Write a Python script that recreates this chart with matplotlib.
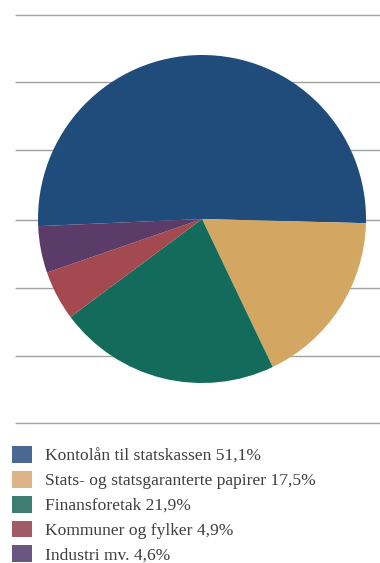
import matplotlib.pyplot as plt
from matplotlib.patches import Patch

# Fordeling av plasseringer (prosent)
labels = ["Kontolån til statskassen", "Stats- og statsgaranterte papirer",
          "Finansforetak", "Kommuner og fylker", "Industri mv."]
shares = [51.1, 17.5, 21.9, 4.9, 4.6]
pie_colors = ["#1f4c7b", "#d3a762", "#136b5c", "#a4494f", "#5b3b68"]
legend_colors = ["#4a6891", "#dcb487", "#3f7d73", "#a15b67", "#6a5580"]

# horisontale hjelpelinjer (piksler fra toppen)
rule_rows = [15, 82, 150, 220, 288, 356, 423]

fig = plt.figure(figsize=(3.8, 5.63), dpi=100)

bg = fig.add_axes([0, 0, 1, 1])
bg.set_xlim(0, 380)
bg.set_ylim(563, 0)
bg.axis("off")
bg.hlines(rule_rows, 15, 380, color="#9ea3a2", linewidth=1.0)

ax = fig.add_axes([0.1, 0.3197, 0.8632, 0.5826])
ax.pie(shares, colors=pie_colors, startangle=182.5, counterclock=False,
       radius=1.0, wedgeprops=dict(linewidth=0))
ax.set_xlim(-1, 1)
ax.set_ylim(-1, 1)
ax.set_aspect("equal")
ax.axis("off")

label_text = [f"{n} {str(v).replace('.', ',')}%" for n, v in zip(labels, shares)]
handles = [Patch(facecolor=c, edgecolor="none") for c in legend_colors]
fig.legend(handles, label_text, loc="upper left", bbox_to_anchor=(0.014, 0.22),
           frameon=False, handlelength=1.1, handleheight=1.1,
           handletextpad=0.78, labelspacing=0.37, borderaxespad=0,
           prop={"family": "Liberation Serif", "size": 12.6},
           labelcolor="#3f3f3f")

fig.savefig("out.png", dpi=100)
